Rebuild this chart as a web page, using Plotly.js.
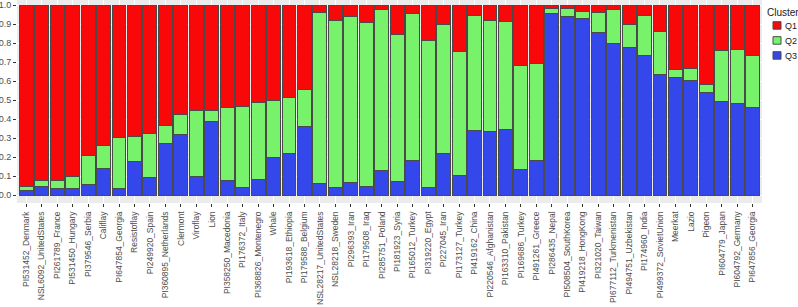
<!DOCTYPE html>
<html><head><meta charset="utf-8">
<script src="https://cdn.plot.ly/plotly-3.0.1.min.js"></script>
<style>html,body{margin:0;padding:0;background:#fff}#chart{width:798px;height:307px}</style>
</head><body><div id="chart"></div>
<script>
var samples = ["PI531452_Denmark","NSL6092_UnitedStates","PI261789_France","PI531450_Hungary","PI379546_Serbia","Califlay","PI647854_Georgia","Resistoflay","PI249920_Spain","PI360895_Netherlands","Clermont","Viroflay","Lion","PI358250_Macedonia","PI176372_Italy","PI368826_Montenegro","Whale","PI193618_Ethiopia","PI179588_Belgium","NSL28217_UnitedStates","NSL28218_Sweden","PI296393_Iran","PI179508_Iraq","PI285751_Poland","PI181923_Syria","PI165012_Turkey","PI319220_Egypt","PI227045_Iran","PI173127_Turkey","PI419162_China","PI220546_Afghanistan","PI163310_Pakistan","PI169686_Turkey","PI491261_Greece","PI286435_Nepal","PI508504_SouthKorea","PI419218_HongKong","PI321020_Taiwan","PI677112_Turkmenistan","PI494751_Uzbekistan","PI174960_India","PI499372_SovietUnion","Meerkat","Lazio","Pigeon","PI604779_Japan","PI604792_Germany","PI647856_Georgia"];
var Q1 = [0.956,0.921,0.921,0.904,0.790,0.737,0.696,0.693,0.675,0.633,0.575,0.553,0.553,0.539,0.535,0.512,0.500,0.486,0.444,0.040,0.079,0.058,0.091,0.026,0.153,0.047,0.188,0.102,0.246,0.054,0.082,0.086,0.321,0.307,0.021,0.018,0.032,0.040,0.026,0.100,0.056,0.137,0.337,0.333,0.418,0.242,0.232,0.267];
var Q2 = [0.018,0.032,0.047,0.061,0.152,0.126,0.269,0.128,0.234,0.097,0.107,0.351,0.058,0.384,0.425,0.404,0.300,0.298,0.196,0.899,0.879,0.875,0.862,0.844,0.777,0.772,0.772,0.679,0.649,0.604,0.583,0.567,0.543,0.509,0.023,0.043,0.038,0.104,0.179,0.123,0.209,0.231,0.047,0.062,0.042,0.267,0.286,0.275];
var Q3 = [0.026,0.047,0.032,0.035,0.058,0.137,0.035,0.179,0.091,0.270,0.318,0.096,0.389,0.077,0.040,0.084,0.200,0.216,0.360,0.061,0.042,0.067,0.047,0.130,0.070,0.181,0.040,0.219,0.105,0.342,0.335,0.347,0.136,0.184,0.956,0.939,0.930,0.856,0.795,0.777,0.735,0.632,0.616,0.605,0.540,0.491,0.482,0.458];
var clusterNames = ["Q1","Q2","Q3"];
var clusterColors = {Q1:"#F80808", Q2:"#77F26A", Q3:"#3447EB"};
var yTicks = [0,0.1,0.2,0.3,0.4,0.5,0.6,0.7,0.8,0.9,1.0];

function tr(name, vals){
  return {type:"bar", name:name, x:samples, y:vals,
    marker:{color:clusterColors[name], line:{color:"#4a4a4a", width:1}},
    showlegend:false, hoverinfo:"x+y+name"};
}
var data = [tr("Q3",Q3), tr("Q2",Q2), tr("Q1",Q1)];

var W=798, H=307, L=17, R=36, T=0, B=104;
var pw=W-L-R, ph=H-T-B;
function px(x){return (x-L)/pw;}
function py(y){return (H-B-y)/ph;}

var shapes=[], ann=[];
ann.push({xref:"paper",yref:"paper",x:px(765),y:py(12),xanchor:"left",yanchor:"middle",text:"Cluster",showarrow:false,
  font:{family:"Liberation Sans, Arial, sans-serif",size:10,color:"#1a1a1a"}});
var legTops=[21.7,36.7,51.7];
for (var i=0;i<clusterNames.length;i++){
  var nm=clusterNames[i];
  shapes.push({type:"rect",xref:"paper",yref:"paper",x0:px(773),x1:px(781),y0:py(legTops[i]),y1:py(legTops[i]+7.5),
    fillcolor:clusterColors[nm],line:{color:"#4a4a4a",width:1}});
  ann.push({xref:"paper",yref:"paper",x:px(782.5),y:py(legTops[i]+3.8),xanchor:"left",yanchor:"middle",text:nm,showarrow:false,
    font:{family:"Liberation Sans, Arial, sans-serif",size:9,color:"#1a1a1a"}});
}

var layout = {
  width:W, height:H,
  margin:{l:L,r:R,t:T,b:B,pad:0},
  paper_bgcolor:"#ffffff", plot_bgcolor:"#EBEBEB",
  barmode:"stack", bargap:0.1,
  font:{family:"Liberation Sans, Arial, sans-serif", size:9, color:"#4D4D4D"},
  xaxis:{type:"category", range:[-0.6,47.6], automargin:false, fixedrange:true,
    tickangle:-90, ticks:"outside", ticklen:3, tickwidth:1, tickcolor:"#333333",
    ticklabelstandoff:1,
    showgrid:true, gridcolor:"#ffffff", gridwidth:1, zeroline:false, showline:false,
    tickfont:{family:"Liberation Sans, Arial, sans-serif",size:8.5,color:"#4D4D4D"}},
  yaxis:{range:[-0.042,1.0263], automargin:false, fixedrange:true,
    tickmode:"array", tickvals:yTicks, tickformat:".1f",
    ticks:"outside", ticklen:3, tickwidth:1, tickcolor:"#333333",
    showgrid:true, gridcolor:"#ffffff", gridwidth:1, zeroline:false, showline:false,
    tickfont:{family:"Liberation Sans, Arial, sans-serif",size:9,color:"#4D4D4D"}},
  shapes:shapes, annotations:ann, showlegend:false
};
Plotly.newPlot("chart", data, layout, {displayModeBar:false, staticPlot:true});
</script></body></html>
